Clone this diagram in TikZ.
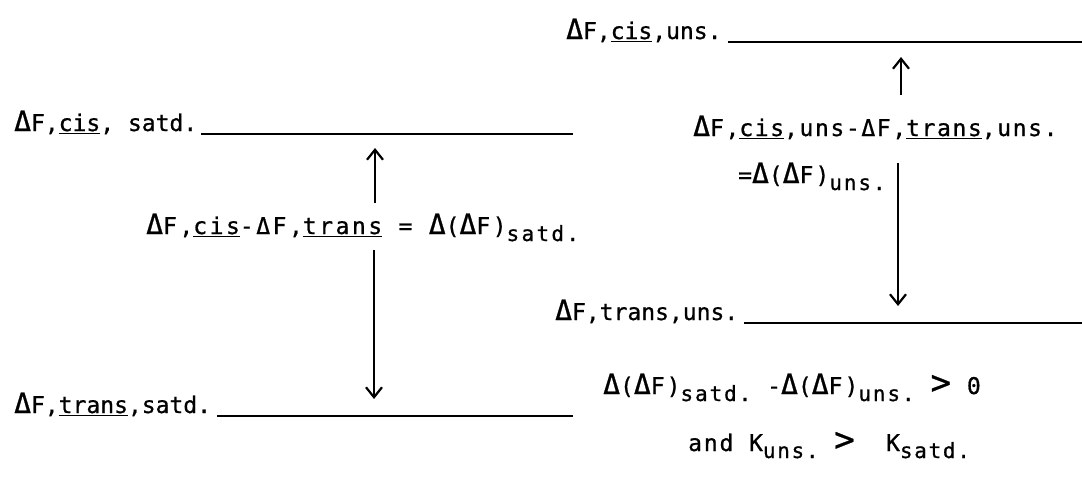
\documentclass[tikz,border=0pt]{standalone}
\usepackage{fontspec}
\usetikzlibrary{arrows.meta}
\newfontfamily\tw[FakeBold=0.8]{DejaVu Sans Mono}
\newcommand\DD{{\fontsize{28}{28}\selectfont Δ}}
\newcommand\subtx[1]{\raisebox{-7pt}{\fontsize{21}{21}\selectfont #1}}
\newcommand\ul[1]{\underline{#1}}
\newcommand\bigt{{\fontsize{34}{34}\selectfont >}}
\tikzset{
  txt/.style={anchor=base west, inner sep=0pt, font=\tw\fontsize{23}{27}\selectfont},
  wide/.style={font=\tw\fontsize{23}{27}\selectfont\addfontfeature{LetterSpace=#1}},
  level/.style={line width=1.6pt},
  arr/.style={line width=2.2pt, -{Straight Barb[length=10pt,width=16pt,line width=2.2pt]}},
}
\begin{document}
\begin{tikzpicture}[x=1pt,y=-1pt]
\useasboundingbox[fill=white] (0,0) rectangle (1082,479);
% level nodes
\node[txt] (cu) at (566,39) {\DD F,\ul{cis},uns.};
\node[txt] (cs) at (14,131) {\DD F,\ul{cis}, satd.};
\node[txt] (ts) at (14,413) {\DD F,\ul{trans},satd.};
\node[txt] (tu) at (555,320) {\DD F,trans,uns.};
% labels
\node[txt, wide=7] (rl) at (693,136) {\DD F,\ul{cis},uns-ΔF,\ul{trans},uns.};
\node[txt, wide=9] (req) at (738,183) {=\DD(\DD F)\subtx{uns.}};
\node[txt, wide=11] (ll) at (146,234) {\DD F,\ul{cis}-ΔF,\ul{trans} = \DD(\DD F)\subtx{satd.}};
\node[txt, wide=9] (diff) at (603,394) {\DD(\DD F)\subtx{satd.} -\DD(\DD F)\subtx{uns.} \bigt\ 0};
\node[txt, wide=8] (andk) at (688,451) {and K\subtx{uns.} \bigt\ \ K\subtx{satd.}};
% level line ends
\coordinate (cuE) at (1082,42);
\coordinate (csE) at (573,134);
\coordinate (tsE) at (573,416);
\coordinate (tuE) at (1082,323);
\draw[level] (cu.base east |- cuE) ++(6pt,0) -- (cuE);
\draw[level] (cs.base east |- csE) ++(4pt,0) -- (csE);
\draw[level] (ts.base east |- tsE) ++(6pt,0) -- (tsE);
\draw[level] (tu.base east |- tuE) ++(6pt,0) -- (tuE);
% arrows
\coordinate (ruB) at (901,95);
\coordinate (ruT) at (901,57);
\coordinate (luB) at (375,203);
\coordinate (luT) at (375,148);
\coordinate (ldT) at (374,250);
\coordinate (ldB) at (374,399);
\coordinate (rdT) at (898,163);
\coordinate (rdB) at (898,306);
\draw[arr] (ruB) -- (ruT);
\draw[arr] (luB) -- (luT);
\draw[arr] (ldT) -- (ldB);
\draw[arr] (rdT) -- (rdB);
\end{tikzpicture}
\end{document}
